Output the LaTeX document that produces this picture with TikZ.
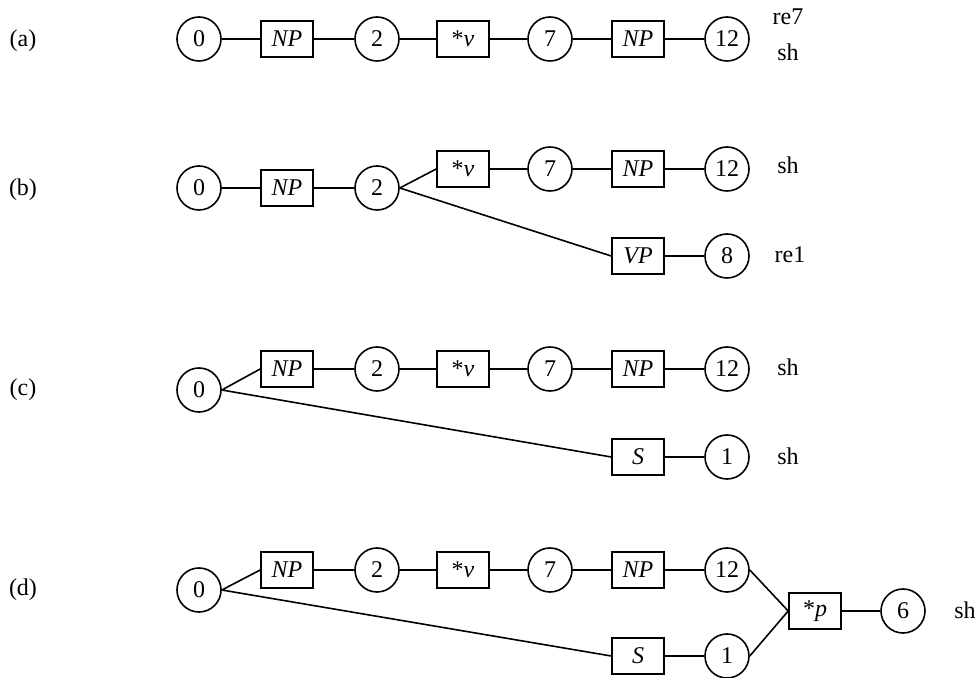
\documentclass[tikz,border=0pt]{standalone}
\usepackage{fontspec}
\setmainfont{Liberation Serif}
\begin{document}
\begin{tikzpicture}[x=0.5pt,y=-0.5pt,
  st/.style={circle,draw,line width=0.8pt,minimum size=22pt,inner sep=0pt,font=\fontsize{12}{14}\selectfont},
  cat/.style={rectangle,draw,line width=0.8pt,minimum width=26pt,minimum height=18pt,inner sep=0pt,font=\fontsize{12}{14}\selectfont\itshape},
  lab/.style={font=\fontsize{12}{14}\selectfont},
  edge/.style={line width=0.8pt}]
\useasboundingbox (0,0) rectangle (976,678);
% (a)
\node[lab] (la) at (23,41) {(a)};
\node[st] (a0) at (199,39) {0};
\node[cat] (a1) at (287,39) {NP};
\node[st] (a2) at (377,39) {2};
\node[cat] (a3) at (463,39) {\upshape*\itshape v};
\node[st] (a4) at (550,39) {7};
\node[cat] (a5) at (638,39) {NP};
\node[st] (a6) at (727,39) {12};
\node[lab] (ta1) at (788,17) {re7};
\node[lab] (ta2) at (788,52) {sh};
\draw[edge] (a0)--(a1) (a1)--(a2) (a2)--(a3) (a3)--(a4) (a4)--(a5) (a5)--(a6);
% (b)
\node[lab] (lb) at (23,190) {(b)};
\node[st] (b0) at (199,188) {0};
\node[cat] (b1) at (287,188) {NP};
\node[st] (b2) at (377,188) {2};
\node[cat] (b3) at (463,169) {\upshape*\itshape v};
\node[st] (b4) at (550,169) {7};
\node[cat] (b5) at (638,169) {NP};
\node[st] (b6) at (727,169) {12};
\node[cat] (b7) at (638,256) {VP};
\node[st] (b8) at (727,256) {8};
\node[lab] (tb1) at (788,165) {sh};
\node[lab] (tb2) at (790,255) {re1};
\draw[edge] (b0)--(b1) (b1)--(b2) (b2.east)--(b3.west) (b3)--(b4) (b4)--(b5) (b5)--(b6)
  (b2.east)--(b7.west) (b7)--(b8);
% (c)
\node[lab] (lc) at (23,390) {(c)};
\node[st] (c0) at (199,390) {0};
\node[cat] (c1) at (287,369) {NP};
\node[st] (c2) at (377,369) {2};
\node[cat] (c3) at (463,369) {\upshape*\itshape v};
\node[st] (c4) at (550,369) {7};
\node[cat] (c5) at (638,369) {NP};
\node[st] (c6) at (727,369) {12};
\node[cat] (c7) at (638,457) {S};
\node[st] (c8) at (727,457) {1};
\node[lab] (tc1) at (788,367) {sh};
\node[lab] (tc2) at (788,456) {sh};
\draw[edge] (c0.east)--(c1.west) (c1)--(c2) (c2)--(c3) (c3)--(c4) (c4)--(c5) (c5)--(c6)
  (c0.east)--(c7.west) (c7)--(c8);
% (d)
\node[lab] (ld) at (23,590) {(d)};
\node[st] (d0) at (199,590) {0};
\node[cat] (d1) at (287,570) {NP};
\node[st] (d2) at (377,570) {2};
\node[cat] (d3) at (463,570) {\upshape*\itshape v};
\node[st] (d4) at (550,570) {7};
\node[cat] (d5) at (638,570) {NP};
\node[st] (d6) at (727,570) {12};
\node[cat] (d7) at (638,656) {S};
\node[st] (d8) at (727,656) {1};
\node[cat] (d9) at (815,611) {\upshape*\itshape p};
\node[st] (d10) at (903,611) {6};
\node[lab] (td1) at (965,610) {sh};
\draw[edge] (d0.east)--(d1.west) (d1)--(d2) (d2)--(d3) (d3)--(d4) (d4)--(d5) (d5)--(d6)
  (d0.east)--(d7.west) (d7)--(d8)
  (d6.east)--(d9.west) (d8.east)--(d9.west) (d9)--(d10);
\end{tikzpicture}
\end{document}
